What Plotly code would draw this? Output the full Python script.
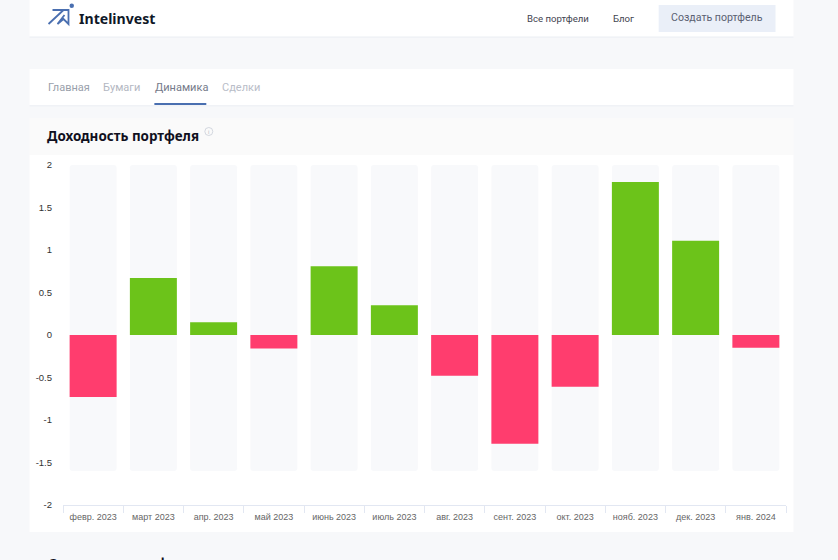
import plotly.graph_objects as go

months = ["февр. 2023", "март 2023", "апр. 2023", "май 2023", "июнь 2023", "июль 2023",
          "авг. 2023", "сент. 2023", "окт. 2023", "нояб. 2023", "дек. 2023", "янв. 2024"]
returns = [-0.73, 0.67, 0.15, -0.16, 0.81, 0.35, -0.48, -1.28, -0.61, 1.80, 1.11, -0.15]
track_low = -1.6
track_high = 2.0
y_ticks = [-2, -1.5, -1, -0.5, 0, 0.5, 1, 1.5, 2]
y_tick_text = ["-2", "-1.5", "-1", "-0.5", "0", "0.5", "1", "1.5", "2"]

W, H = 838, 560
L, R, T, B = 62.5, 786.5, 165, 505
UP, DOWN, TRACK = "#6cc31a", "#ff3d6e", "#f8f9fb"


def px(x):
    return (x - L) / (R - L)


def py(y):
    return (B - y) / (B - T)


def rect(x0, y0, x1, y1, color):
    return dict(type="rect", xref="paper", yref="paper", layer="below", line_width=0,
                fillcolor=color, x0=px(x0), x1=px(x1), y0=py(y0), y1=py(y1))


def text(x, y, s, size, color, family="Roboto", anchor="left"):
    return dict(xref="paper", yref="paper", x=px(x), y=py(y), text=s, showarrow=False,
                xanchor=anchor, yanchor="middle", align=anchor,
                font=dict(size=size, color=color, family=family))


fig = go.Figure()
fig.add_bar(x=months, y=[track_high - track_low] * len(months), base=track_low,
            marker=dict(color=TRACK, line_width=0), hoverinfo="skip", showlegend=False)
fig.add_bar(x=months, y=returns,
            marker=dict(color=[UP if v >= 0 else DOWN for v in returns], line_width=0),
            showlegend=False)

shapes = [
    rect(29, 0, 794, 36.5, "#ffffff"),
    rect(29, 36.5, 794, 38, "#f0f2f6"),
    rect(29, 69, 794, 105, "#ffffff"),
    rect(29, 105, 794, 106.5, "#f0f2f6"),
    rect(29, 118, 794, 155, "#fafafa"),
    rect(29, 155, 794, 532, "#ffffff"),
    rect(154, 103, 206, 105, "#4a6fb0"),
    rect(659, 5, 776, 32, "#eaeff8"),
    dict(type="path", xref="paper", yref="paper", layer="below", line=dict(color="#4a6fb0", width=1.8),
         path=" ".join(f"{c}{px(a):.5f},{py(b):.5f}" for c, a, b in [
             ("M", 48, 24), ("L", 63, 10), ("M", 52, 10), ("L", 68, 10), ("L", 68, 24),
             ("L", 63, 19), ("L", 57, 24), ("L", 64, 15)])),
    dict(type="circle", xref="paper", yref="paper", layer="below", line_width=0, fillcolor="#4a6fb0",
         x0=px(69), x1=px(73.5), y0=py(8), y1=py(3.5)),
    dict(type="circle", xref="paper", yref="paper", layer="below", line=dict(color="#c9ced8", width=0.8),
         x0=px(204.5), x1=px(212.5), y0=py(135.5), y1=py(127.5)),
]

annotations = [
    text(77, 18, "<b>Intelinvest</b>", 14.1, "#101828", "Noto Sans"),
    text(525.5, 18, "Все портфели", 9.6, "#3f4450"),
    text(611, 18, "Блог", 9.6, "#3f4450"),
    text(717.5, 17.5, "Создать портфель", 10.6, "#5a6072", anchor="center"),
    text(45, 87.5, "Главная", 11, "#9a9fab"),
    text(101, 87.5, "Бумаги", 11, "#b3b7c2"),
    text(152.5, 87.5, "Динамика", 11, "#757a8a"),
    text(219.5, 87.5, "Сделки", 11, "#b9bdc8"),
    text(44, 136, "<b>Доходность портфеля</b>", 13.4, "#101020", "Noto Sans"),
    text(208.5, 131.5, "i", 6, "#b8bdc8", anchor="center"),
    text(45, 564, "<b>Стоимость портфеля</b>", 13.4, "#101020", "Noto Sans"),
]

fig.update_layout(
    width=W, height=H, autosize=False,
    margin=dict(l=L, r=W - R, t=T, b=H - B, pad=0),
    paper_bgcolor="#f7f8fa", plot_bgcolor="rgba(0,0,0,0)",
    barmode="overlay", bargap=0.22, barcornerradius=3,
    shapes=shapes, annotations=annotations,
    xaxis=dict(type="category", tickson="boundaries", ticks="outside", ticklen=7, tickwidth=1,
               tickcolor="#e2e7f2", showline=True, linecolor="#e2e7f2", linewidth=1,
               showgrid=False, zeroline=False, tickangle=0, ticklabelstandoff=3,
               tickfont=dict(size=9, color="#666666", family="Liberation Sans")),
    yaxis=dict(range=[-2, 2], tickvals=y_ticks, ticktext=y_tick_text, ticks="", showgrid=False,
               zeroline=False, showline=False, ticklabelstandoff=10,
               tickfont=dict(size=9.5, color="#333333", family="Liberation Sans")),
)
fig.write_html("out.html", config={"displayModeBar": False},
               post_script="document.body.style.margin='0';document.body.style.overflow='hidden';"
                           "document.body.style.background='#f7f8fa';")
